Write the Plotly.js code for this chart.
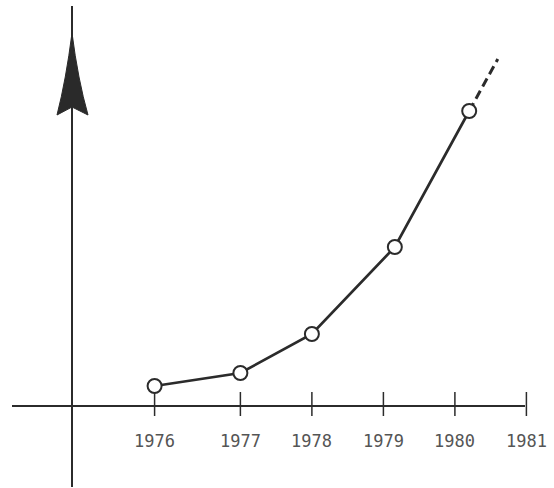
<!DOCTYPE html>
<html>
<head>
<meta charset="utf-8">
<script src="https://cdn.plot.ly/plotly-3.0.1.min.js"></script>
<style>
  html, body { margin: 0; padding: 0; background: #ffffff; }
  #chart { width: 554px; height: 488px; }
</style>
</head>
<body>
<div id="chart"></div>
<script>
// Tick labels of the horizontal (year) axis and where each sits on the drawn axis
const tickLabels = ['1976', '1977', '1978', '1979', '1980', '1981'];
const tickX = [1975.8, 1977, 1978, 1979, 1980, 1981];

const pointX = [1975.8, 1977, 1978, 1979.16, 1980.2];
const pointY = [2.0, 3.3, 7.2, 15.9, 29.5];

// Dashed projection beyond the last point
const projX = [1980.2, 1980.6];
const projY = [29.5, 34.7];

const W = 554, H = 488;
const px = v => v / W;          // pixel -> paper x
const py = v => 1 - v / H;      // pixel -> paper y
const ink = '#2b2b2b';

const traces = [
  {
    x: projX, y: projY, type: 'scatter', mode: 'lines',
    line: { color: ink, width: 3, dash: '9px,5px' },
    hoverinfo: 'skip'
  },
  {
    x: pointX, y: pointY, type: 'scatter', mode: 'lines+markers',
    line: { color: ink, width: 2.7 },
    marker: { symbol: 'circle', size: 14, color: '#ffffff', line: { color: ink, width: 2 } }
  }
];

const shapes = [
  // horizontal axis
  { type: 'line', xref: 'paper', yref: 'y', x0: px(12), x1: px(525), y0: 0, y1: 0,
    line: { color: ink, width: 2 } },
  // vertical axis
  { type: 'line', xref: 'paper', yref: 'paper', x0: px(72), x1: px(72), y0: py(6), y1: py(487),
    line: { color: ink, width: 2 } },
  // arrow head on vertical axis
  { type: 'path', xref: 'paper', yref: 'paper',
    path: 'M ' + px(72) + ',' + py(33) +
          ' Q ' + px(66) + ',' + py(80) + ' ' + px(57) + ',' + py(115) +
          ' L ' + px(72) + ',' + py(107) +
          ' L ' + px(88) + ',' + py(115) +
          ' Q ' + px(78) + ',' + py(80) + ' ' + px(72) + ',' + py(33) + ' Z',
    fillcolor: '#2a2a2a', line: { color: '#2a2a2a', width: 1 } }
];
// tick marks crossing the horizontal axis
tickX.forEach(function (t) {
  shapes.push({ type: 'line', xref: 'x', yref: 'y', x0: t, x1: t, y0: 1.4, y1: -1.0,
    line: { color: ink, width: 1.5 } });
});

const annotations = tickLabels.map(function (lab, i) {
  return {
    x: tickX[i], y: -3.5, xref: 'x', yref: 'y', text: lab, showarrow: false,
    xanchor: 'center', yanchor: 'middle',
    font: { family: 'DejaVu Sans Mono, Liberation Mono, monospace', size: 17, color: '#555555' }
  };
});

const layout = {
  width: W, height: H,
  margin: { l: 0, r: 0, t: 0, b: 0, pad: 0 },
  paper_bgcolor: '#ffffff', plot_bgcolor: '#ffffff',
  showlegend: false,
  xaxis: { range: [1973.638, 1981.386], visible: false, fixedrange: true },
  yaxis: { range: [-8.2, 40.6], visible: false, fixedrange: true },
  shapes: shapes,
  annotations: annotations
};

Plotly.newPlot('chart', traces, layout, { displayModeBar: false, staticPlot: true });
</script>
</body>
</html>
